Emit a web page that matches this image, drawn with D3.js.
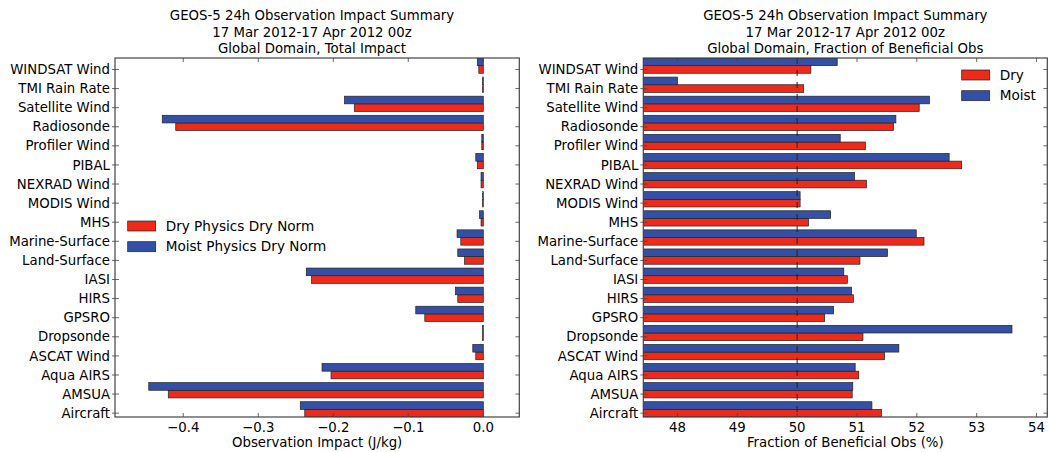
<!DOCTYPE html>
<html>
<head>
<meta charset="utf-8">
<script src="https://cdn.jsdelivr.net/npm/d3@7"></script>
<style>
  body { margin: 0; background: #fff; }
  svg { font-family: "DejaVu Sans", sans-serif; }
</style>
</head>
<body>
<svg id="chart" width="1049" height="452"></svg>
<script>
// categories listed top to bottom as they appear on the chart
const categories = ["WINDSAT Wind", "TMI Rain Rate", "Satellite Wind", "Radiosonde", "Profiler Wind",
  "PIBAL", "NEXRAD Wind", "MODIS Wind", "MHS", "Marine-Surface", "Land-Surface", "IASI", "HIRS",
  "GPSRO", "Dropsonde", "ASCAT Wind", "Aqua AIRS", "AMSUA", "Aircraft"];

// total impact (J/kg)
const impactDry   = [-0.006, -0.001, -0.172, -0.410, -0.002, -0.008, -0.003, -0.001, -0.003, -0.030,
  -0.025, -0.229, -0.034, -0.078, -0.001, -0.010, -0.203, -0.420, -0.238];
const impactMoist = [-0.008, -0.001, -0.185, -0.428, -0.002, -0.010, -0.003, -0.001, -0.005, -0.035,
  -0.034, -0.236, -0.037, -0.090, -0.001, -0.014, -0.215, -0.446, -0.244];

// fraction of beneficial obs (%)
const fracDry   = [50.23, 50.11, 52.04, 51.61, 51.14, 52.75, 51.16, 50.05, 50.19, 52.12,
  51.05, 50.84, 50.94, 50.46, 51.10, 51.46, 51.03, 50.92, 51.41];
const fracMoist = [50.67, 48.00, 52.21, 51.65, 50.72, 52.54, 50.96, 50.05, 50.56, 51.99,
  51.51, 50.78, 50.91, 50.61, 53.59, 51.70, 50.97, 50.93, 51.25];

const impactTicks = [-0.4, -0.3, -0.2, -0.1, 0.0];
const fracTicks = [48, 49, 50, 51, 52, 53, 54];

const titleLines = ["GEOS-5 24h Observation Impact Summary", "17 Mar 2012-17 Apr 2012 00z"];

const RED = "#ee2a1a", BLUE = "#3450a6";

const svg = d3.select("#chart");
const n = categories.length;
const plotTop = 58, plotBottom = 417;

const y = d3.scaleLinear().domain([-0.2, n - 0.4]).range([plotBottom, plotTop]);
const pos = i => n - 1 - i;   // index from the bottom

//-------------------------
function drawPanel(p) {
  const x = d3.scaleLinear().domain(p.domain).range([p.left, p.right]);
  const g = svg.append("g");
  const clipId = "clip" + p.id;

  g.append("clipPath").attr("id", clipId)
    .append("rect").attr("x", p.left).attr("y", plotTop)
    .attr("width", p.right - p.left).attr("height", plotBottom - plotTop);

  const base = p.base === undefined ? p.domain[0] : p.base;
  const bars = g.append("g").attr("clip-path", `url(#${clipId})`);

  // red bar sits on the tick, blue bar just above it
  const series = [
    { vals: p.dry, color: RED, off: -0.2 },
    { vals: p.moist, color: BLUE, off: 0.2 }
  ];
  series.forEach(s => {
    bars.selectAll(null).data(s.vals).enter().append("rect")
      .attr("x", d => Math.min(x(d), x(base)))
      .attr("width", d => Math.max(Math.abs(x(d) - x(base)), 0.6))
      .attr("y", (d, i) => y(pos(i) + s.off + 0.4))
      .attr("height", y(0) - y(0.4))
      .attr("fill", s.color)
      .attr("stroke", "#222")
      .attr("stroke-width", 0.7);
  });

  if (p.refLine !== undefined) {
    g.append("line")
      .attr("x1", x(p.refLine)).attr("x2", x(p.refLine))
      .attr("y1", plotTop).attr("y2", plotBottom)
      .attr("stroke", "#222").attr("stroke-width", 1)
      .attr("stroke-dasharray", "6,6");
  }

  // frame
  g.append("rect").attr("x", p.left).attr("y", plotTop)
    .attr("width", p.right - p.left).attr("height", plotBottom - plotTop)
    .attr("fill", "none").attr("stroke", "#444").attr("stroke-width", 1.2);

  // ticks inward on all sides
  const ticks = g.append("g").attr("stroke", "#444").attr("stroke-width", 0.8);
  p.ticks.forEach(t => {
    ticks.append("line").attr("x1", x(t)).attr("x2", x(t)).attr("y1", plotBottom).attr("y2", plotBottom - 4);
    ticks.append("line").attr("x1", x(t)).attr("x2", x(t)).attr("y1", plotTop).attr("y2", plotTop + 4);
  });
  categories.forEach((c, i) => {
    const yy = y(pos(i));
    ticks.append("line").attr("x1", p.left - 3).attr("x2", p.left + 4).attr("y1", yy).attr("y2", yy);
    ticks.append("line").attr("x1", p.right).attr("x2", p.right - 4).attr("y1", yy).attr("y2", yy);
  });

  // x tick labels
  g.selectAll(null).data(p.ticks).enter().append("text")
    .attr("x", d => x(d)).attr("y", 432)
    .attr("text-anchor", "middle").attr("font-size", "13.3px")
    .text(p.fmt);

  // y tick labels
  g.selectAll(null).data(categories).enter().append("text")
    .attr("x", p.left - 5).attr("y", (d, i) => y(pos(i)))
    .attr("dy", "0.35em")
    .attr("text-anchor", "end").attr("font-size", "13.3px")
    .text(d => d);

  // x axis title
  g.append("text").attr("x", (p.left + p.right) / 2).attr("y", 447)
    .attr("text-anchor", "middle").attr("font-size", "13.3px").text(p.xlabel);

  // title
  titleLines.concat([p.subtitle]).forEach((t, i) => {
    g.append("text").attr("x", p.titleX).attr("y", 20 + i * 16.6)
      .attr("text-anchor", "middle").attr("font-size", "13.3px").text(t);
  });

  // legend
  const lg = g.append("g");
  p.legend.labels.forEach((lab, i) => {
    const ly = p.legend.y + i * 20.7;
    lg.append("rect").attr("x", p.legend.x).attr("y", ly)
      .attr("width", 28).attr("height", 10)
      .attr("fill", i === 0 ? RED : BLUE).attr("stroke", "#222").attr("stroke-width", 0.7);
    lg.append("text").attr("x", p.legend.x + 38).attr("y", ly + 5).attr("dy", "0.35em")
      .attr("font-size", "13.6px").text(lab);
  });
}

drawPanel({
  id: "L", left: 115, right: 519.3, domain: [-0.491, 0.048], base: 0,
  dry: impactDry, moist: impactMoist, ticks: impactTicks, fmt: d3.format(".1f"),
  xlabel: "Observation Impact (J/kg)", subtitle: "Global Domain, Total Impact", titleX: 312,
  legend: { x: 127.7, y: 221, labels: ["Dry Physics Dry Norm", "Moist Physics Dry Norm"] }
});

drawPanel({
  id: "R", left: 643.3, right: 1047.3, domain: [47.43, 54.18], refLine: 50,
  dry: fracDry, moist: fracMoist, ticks: fracTicks, fmt: d3.format("d"),
  xlabel: "Fraction of Beneficial Obs (%)", subtitle: "Global Domain, Fraction of Beneficial Obs", titleX: 845.3,
  legend: { x: 961.7, y: 70, labels: ["Dry", "Moist"] }
});
</script>
</body>
</html>
